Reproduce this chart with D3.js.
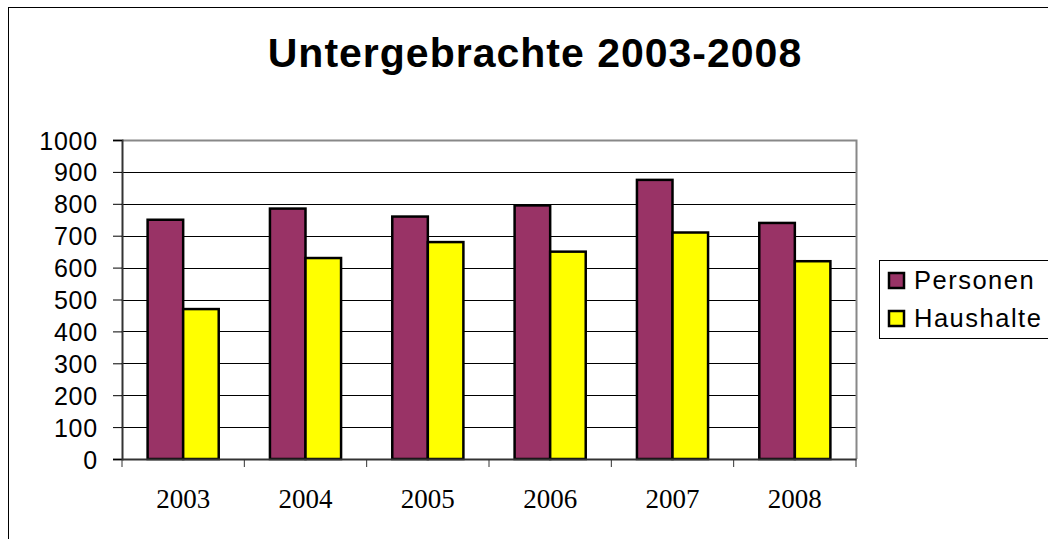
<!DOCTYPE html>
<meta charset="utf-8">
<style>
body { margin: 0; background: #fff; }
svg { display: block; }
.grid line { stroke: #000; stroke-width: 1px; }
.ylab { font-family: "Liberation Sans", Arial, sans-serif; font-size: 25px; letter-spacing: 0.8px; fill: #000; }
.xlab { font-family: "Liberation Serif", "Times New Roman", serif; font-size: 27px; fill: #000; }
</style>
<svg width="1048" height="539"></svg>
<script src="https://cdn.jsdelivr.net/npm/d3@7"></script>
<script>

var years = ["2003", "2004", "2005", "2006", "2007", "2008"];
var personen = [750, 785, 760, 795, 875, 740];
var haushalte = [470, 630, 680, 650, 710, 620];
var seriesNames = ["Personen", "Haushalte"];
var seriesColors = ["#993366", "#ffff00"];
var yTicks = [0, 100, 200, 300, 400, 500, 600, 700, 800, 900, 1000];

var svg = d3.select("svg");

// outer chart border (runs off the right and bottom edge)
svg.append("rect")
    .attr("x", 8.5).attr("y", 7.5)
    .attr("width", 1100).attr("height", 600)
    .attr("fill", "none").attr("stroke", "#000").attr("stroke-width", 1);

svg.append("text")
    .attr("x", 535).attr("y", 67)
    .attr("text-anchor", "middle")
    .style("font-family", "'Liberation Sans', Arial, sans-serif")
    .style("font-size", "41px").style("font-weight", "bold")
    .style("letter-spacing", "1px")
    .text("Untergebrachte 2003-2008");

var plotL = 122, plotR = 856, plotT = 140, plotB = 459;

var x0 = d3.scaleBand().domain(years).range([plotL, plotR]).paddingInner(0).paddingOuter(0);
var x1 = d3.scaleBand().domain(seriesNames).range([0, x0.bandwidth()]).paddingInner(0).paddingOuter(0.72);
var y = d3.scaleLinear().domain([0, 1000]).range([plotB, plotT]);

// gridlines
svg.append("g").attr("class", "grid")
  .selectAll("line").data(yTicks.filter(function(d) { return d > 0 && d < 1000; }))
  .enter().append("line")
    .attr("x1", plotL).attr("x2", plotR)
    .attr("y1", function(d) { return Math.round(y(d)) + 0.5; })
    .attr("y2", function(d) { return Math.round(y(d)) + 0.5; });

// plot area frame top/right
svg.append("path")
    .attr("d", "M" + plotL + "," + (plotT + 0.5) + "H" + (plotR + 0.5) + "V" + plotB)
    .attr("fill", "none").attr("stroke", "#888").attr("stroke-width", 2);

// bars
var rows = years.map(function(yr, i) { return { year: yr, values: [personen[i], haushalte[i]] }; });
var groups = svg.append("g").selectAll("g").data(rows).enter().append("g")
    .attr("transform", function(d) { return "translate(" + x0(d.year) + ",0)"; });
groups.selectAll("rect").data(function(d) {
    return d.values.map(function(v, j) { return { name: seriesNames[j], value: v, color: seriesColors[j] }; });
  }).enter().append("rect")
    .attr("x", function(d) { return x1(d.name); })
    .attr("y", function(d) { return y(d.value); })
    .attr("width", x1.bandwidth())
    .attr("height", function(d) { return plotB - y(d.value); })
    .attr("fill", function(d) { return d.color; })
    .attr("stroke", "#000").attr("stroke-width", 2.5);

// y axis
var yAxis = svg.append("g").attr("transform", "translate(" + plotL + ",0)")
    .call(d3.axisLeft(y).tickValues(yTicks).tickSize(9).tickPadding(15).tickFormat(d3.format("d")));
yAxis.select(".domain").attr("stroke", "#333").attr("stroke-width", 2);
yAxis.selectAll(".tick line").attr("stroke", "#000");
yAxis.selectAll(".tick text").attr("class", "ylab").attr("font-family", null).attr("font-size", null)
    .attr("dy", "0.36em");

// x axis
var xAxis = svg.append("g").attr("transform", "translate(0," + plotB + ")")
    .call(d3.axisBottom(x0).tickSize(0).tickPadding(30));
xAxis.select(".domain").attr("stroke", "#333").attr("stroke-width", 2);
xAxis.selectAll(".tick text").attr("class", "xlab").attr("font-family", null).attr("font-size", null);
xAxis.selectAll(".bt").data(years.concat(["end"])).enter().append("line")
    .attr("x1", function(d, i) { return i < years.length ? x0(d) : plotR; })
    .attr("x2", function(d, i) { return i < years.length ? x0(d) : plotR; })
    .attr("y1", 0).attr("y2", 8).attr("stroke", "#333").attr("stroke-width", 1);

// legend
var legend = svg.append("g");
legend.append("rect")
    .attr("x", 879.5).attr("y", 260.5).attr("width", 200).attr("height", 78)
    .attr("fill", "#fff").attr("stroke", "#000");
seriesNames.forEach(function(n, i) {
  var sy = 272 + i * 38;
  legend.append("rect")
      .attr("x", 889).attr("y", sy + 1).attr("width", 15).attr("height", 15)
      .attr("fill", seriesColors[i]).attr("stroke", "#000").attr("stroke-width", 2.5);
  legend.append("text")
      .attr("x", 914).attr("y", sy + 17)
      .style("font-family", "'Liberation Sans', Arial, sans-serif").style("font-size", "25.5px")
      .style("letter-spacing", "1.5px")
      .text(n);
});

</script>
